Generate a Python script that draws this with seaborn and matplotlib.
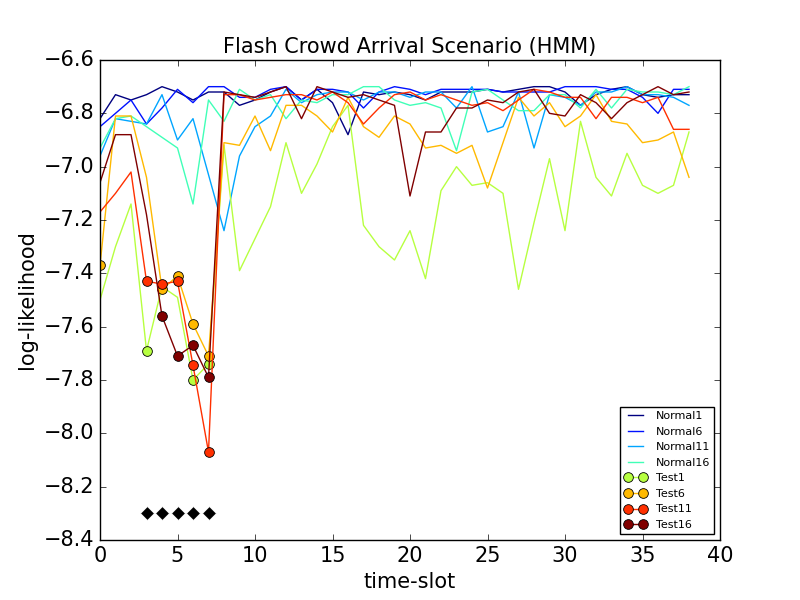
import numpy as np
import pandas as pd
import matplotlib
matplotlib.use('Agg')
import matplotlib.pyplot as plt
from matplotlib.ticker import MultipleLocator
import seaborn as sns

plt.style.use('classic')

slots = list(range(39))

normal1 = [-6.82, -6.73, -6.75, -6.73, -6.70, -6.72, -6.75, -6.72, -6.72, -6.77,
           -6.75, -6.72, -6.70, -6.75, -6.71, -6.76, -6.88, -6.72, -6.73, -6.72,
           -6.73, -6.75, -6.72, -6.72, -6.72, -6.71, -6.72, -6.71, -6.70, -6.70,
           -6.72, -6.77, -6.73, -6.71, -6.70, -6.73, -6.74, -6.73, -6.73]
normal6 = [-6.85, -6.80, -6.75, -6.84, -6.78, -6.71, -6.76, -6.70, -6.70, -6.74,
           -6.74, -6.71, -6.70, -6.75, -6.71, -6.71, -6.72, -6.78, -6.72, -6.70,
           -6.71, -6.73, -6.71, -6.71, -6.71, -6.71, -6.72, -6.72, -6.72, -6.72,
           -6.70, -6.70, -6.70, -6.71, -6.71, -6.74, -6.80, -6.71, -6.71]
normal11 = [-6.96, -6.82, -6.83, -6.84, -6.73, -6.90, -6.82, -7.03, -7.24, -6.96,
            -6.85, -6.81, -6.71, -6.76, -6.73, -6.72, -6.72, -6.75, -6.72, -6.72,
            -6.74, -6.72, -6.72, -6.78, -6.70, -6.87, -6.85, -6.72, -6.93, -6.73,
            -6.74, -6.77, -6.72, -6.72, -6.70, -6.73, -6.73, -6.74, -6.77]
normal16 = [-6.93, -6.82, -6.81, -6.85, -6.89, -6.93, -7.14, -6.75, -6.83, -6.71,
            -6.75, -6.73, -6.82, -6.75, -6.76, -6.73, -6.73, -6.70, -6.70, -6.75,
            -6.77, -6.76, -6.78, -6.94, -6.72, -6.71, -6.75, -6.79, -6.79, -6.73,
            -6.73, -6.78, -6.71, -6.78, -6.71, -6.72, -6.72, -6.73, -6.70]
test1 = [-7.50, -7.30, -7.14, -7.69, -7.45, -7.49, -7.80, -7.74, -6.92, -7.39,
         -7.27, -7.15, -6.91, -7.10, -6.99, -6.85, -6.77, -7.22, -7.30, -7.35,
         -7.24, -7.42, -7.09, -7.00, -7.07, -7.06, -7.10, -7.46, -7.21, -6.97,
         -7.24, -6.83, -7.04, -7.11, -6.95, -7.07, -7.10, -7.07, -6.87]
test6 = [-7.37, -6.81, -6.81, -7.04, -7.46, -7.41, -7.59, -7.71, -6.91, -6.92,
         -6.81, -6.94, -6.77, -6.77, -6.81, -6.87, -6.74, -6.85, -6.89, -6.81,
         -6.84, -6.93, -6.92, -6.95, -6.92, -7.08, -6.91, -6.74, -6.81, -6.76,
         -6.85, -6.81, -6.73, -6.83, -6.84, -6.91, -6.90, -6.87, -7.04]
test11 = [-7.17, -7.10, -7.02, -7.43, -7.44, -7.43, -7.745, -8.07, -6.73, -6.73,
          -6.75, -6.74, -6.73, -6.73, -6.75, -6.72, -6.76, -6.84, -6.78, -6.73,
          -6.72, -6.75, -6.73, -6.75, -6.77, -6.76, -6.79, -6.75, -6.71, -6.72,
          -6.74, -6.74, -6.82, -6.74, -6.74, -6.76, -6.74, -6.86, -6.86]
test16 = [-7.06, -6.88, -6.88, -7.18, -7.56, -7.71, -7.67, -7.79, -6.72, -6.73,
          -6.74, -6.72, -6.70, -6.82, -6.70, -6.72, -6.74, -6.73, -6.75, -6.77,
          -7.11, -6.87, -6.87, -6.78, -6.78, -6.75, -6.76, -6.72, -6.71, -6.80,
          -6.81, -6.73, -6.76, -6.82, -6.76, -6.73, -6.70, -6.73, -6.72]

# slots flagged as anomalous for each test run
flagged = {
    'Test1': [3, 6, 7],
    'Test6': [0, 4, 5, 6, 7],
    'Test11': [3, 4, 5, 6, 7],
    'Test16': [4, 5, 6, 7],
}
attack_slots = [3, 4, 5, 6, 7]
attack_level = [-8.3] * len(attack_slots)

names = ['Normal1', 'Normal6', 'Normal11', 'Normal16', 'Test1', 'Test6', 'Test11', 'Test16']
series = [normal1, normal6, normal11, normal16, test1, test6, test11, test16]
colors = plt.cm.jet(np.linspace(0, 1, len(names)))

fig, ax = plt.subplots(figsize=(8, 6), dpi=100)

for name, vals, c in zip(names, series, colors):
    df = pd.DataFrame({'slot': slots, 'll': vals})
    if name in flagged:
        sns.lineplot(data=df, x='slot', y='ll', color=c, label=name, ax=ax,
                     marker='o', markersize=7, markevery=flagged[name],
                     markeredgecolor='k', markeredgewidth=0.6)
    else:
        sns.lineplot(data=df, x='slot', y='ll', color=c, label=name, ax=ax)

sns.scatterplot(x=attack_slots, y=attack_level, marker='D', color='k', s=50,
                ax=ax, legend=False, zorder=5)

ax.set_xlim(0, 40)
ax.set_ylim(-8.4, -6.6)
ax.yaxis.set_major_locator(MultipleLocator(0.2))
ax.tick_params(labelsize=15)
ax.set_title('Flash Crowd Arrival Scenario (HMM)', fontsize=15)
ax.set_xlabel('time-slot', fontsize=15)
ax.set_ylabel('log-likelihood', fontsize=15)
ax.legend(loc='lower right', fontsize=8, numpoints=2)

plt.savefig('out.png', dpi=100)
